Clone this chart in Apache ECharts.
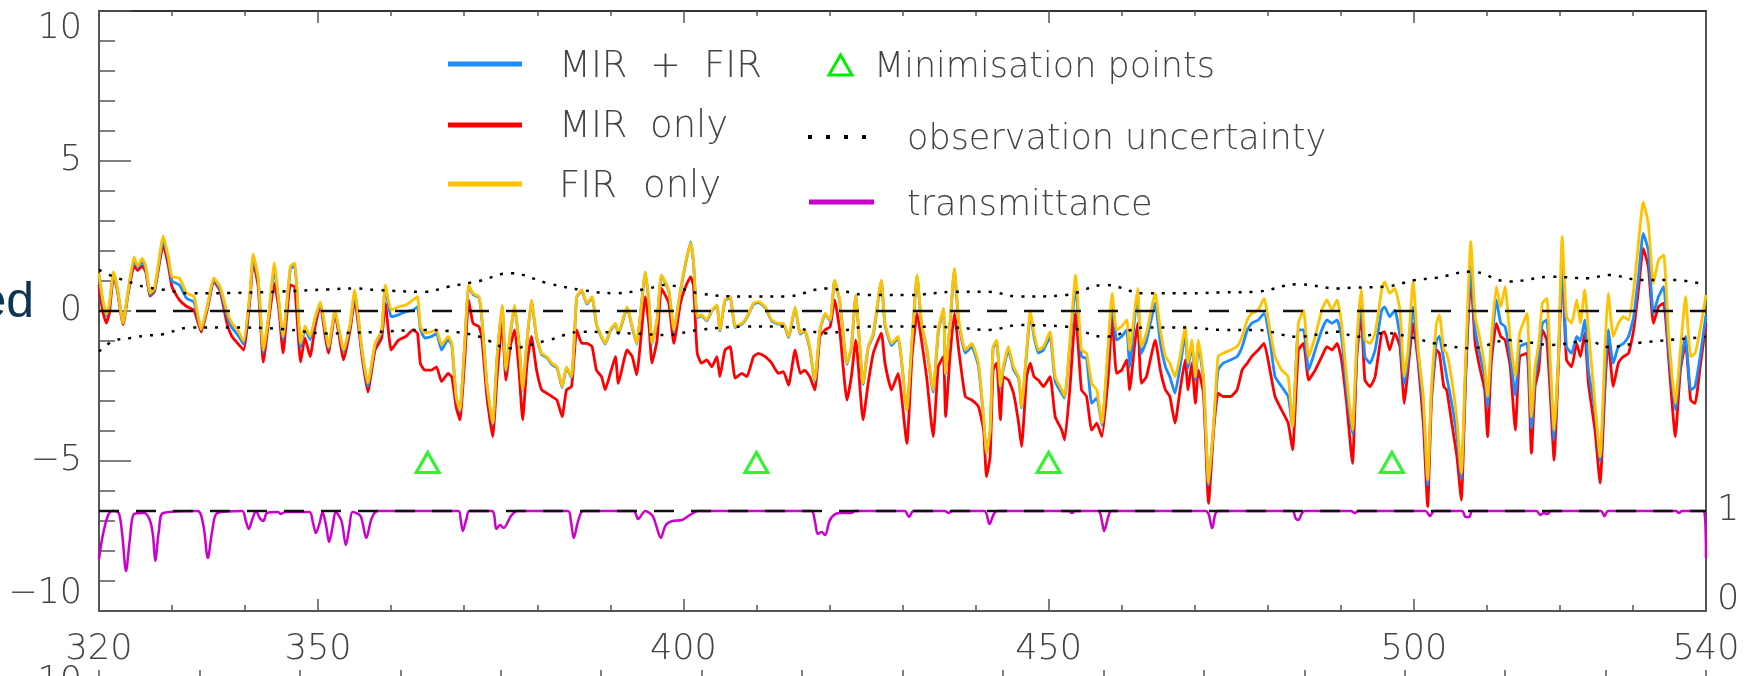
<!DOCTYPE html>
<html>
<head>
<meta charset="utf-8">
<script src="https://cdn.jsdelivr.net/npm/echarts@6/dist/echarts.min.js"></script>
<style>
html,body{margin:0;padding:0;background:#fff;}
#chart{width:1748px;height:676px;}
</style>
</head>
<body>
<div id="chart"></div>
<script>
// Wavenumber (x) samples shared by the three retrieval curves
const wavenumber = [
320.0, 320.5, 321.0, 321.4, 322.0, 322.5, 323.3, 324.0, 324.8, 325.3,
325.9, 326.4, 327.0, 327.6, 328.8, 329.5, 330.0, 331.0, 332.0, 333.0,
334.0, 335.0, 335.7, 336.6, 337.5, 338.2, 339.0, 339.8, 340.7, 341.1,
341.8, 342.5, 343.2, 344.0, 344.6, 345.2, 346.2, 346.8, 347.6, 348.2,
348.9, 349.6, 350.3, 351.0, 351.4, 352.3, 353.5, 354.4, 355.0, 356.0,
356.8, 357.8, 358.7, 359.2, 360.0, 361.0, 362.0, 363.0, 363.6, 364.0,
364.6, 365.5, 366.2, 366.9, 367.8, 368.3, 368.9, 369.4, 370.1, 370.6,
371.2, 372.0, 372.4, 373.1, 373.9, 374.5, 375.2, 375.7, 376.3, 376.9,
377.5, 378.0, 378.6, 379.2, 379.9, 380.6, 381.3, 382.0, 382.7, 383.4,
384.0, 384.7, 385.4, 386.1, 386.8, 387.5, 388.1, 388.8, 389.3, 390.0,
390.7, 391.1, 392.3, 393.0, 393.6, 394.8, 395.3, 395.7, 396.4, 397.0,
398.0, 398.7, 399.6, 400.3, 401.0, 401.4, 401.9, 402.5, 403.2, 403.9,
404.6, 405.0, 405.7, 406.4, 407.1, 408.0, 408.7, 409.6, 410.3, 411.2,
412.1, 413.0, 413.7, 414.4, 415.3, 416.0, 416.6, 417.3, 418.0, 418.7,
419.4, 420.1, 420.7, 421.4, 422.4, 423.0, 423.6, 424.6, 425.3, 426.0,
427.1, 427.6, 428.5, 429.4, 430.6, 431.3, 432.0, 432.6, 433.3, 434.2,
434.9, 435.6, 435.9, 436.5, 437.1, 437.7, 438.6, 439.5, 440.4, 441.1,
441.5, 442.0, 442.4, 442.9, 443.4, 443.8, 444.5, 445.2, 445.9, 446.3,
447.0, 447.5, 448.0, 448.6, 449.3, 450.2, 450.9, 451.8, 452.2, 452.9,
453.7, 454.5, 455.2, 455.9, 456.6, 457.3, 458.2, 458.7, 459.3, 460.0,
460.7, 461.1, 461.8, 462.2, 462.7, 463.4, 464.6, 465.3, 466.0, 466.6,
467.3, 468.0, 468.7, 469.1, 469.6, 470.1, 470.5, 471.2, 471.9, 472.6,
473.2, 473.9, 474.9, 475.8, 476.5, 477.2, 477.8, 478.7, 479.5, 480.3,
481.0, 481.9, 482.8, 483.4, 484.2, 484.9, 485.6, 486.5, 487.4, 488.1,
488.8, 489.5, 490.1, 490.8, 491.6, 492.2, 492.8, 493.3, 494.0, 494.7,
495.6, 496.0, 496.7, 497.4, 498.1, 498.7, 499.2, 499.9, 500.6, 501.3,
501.9, 502.4, 503.1, 503.5, 504.1, 504.5, 505.2, 505.9, 506.5, 507.1,
507.8, 508.4, 509.0, 509.7, 510.1, 510.6, 511.3, 511.9, 512.5, 513.2,
513.9, 514.5, 515.5, 516.1, 516.6, 517.1, 517.6, 518.2, 518.7, 519.2,
519.8, 520.3, 520.9, 521.6, 522.3, 522.8, 523.4, 523.9, 524.8, 525.5,
526.2, 526.6, 527.3, 528.0, 528.7, 529.4, 530.1, 530.8, 531.4, 532.1,
532.8, 533.5, 534.2, 534.9, 535.8, 536.5, 537.2, 537.9, 538.5, 539.2, 540.0
];

// FIR only (yellow)
const firOnly = [
1.26, 0.4, -0.1, 0.2, 1.3, 0.8, -0.4, 0.7, 1.8, 1.5,
1.75, 1.5, 0.6, 0.75, 2.5, 1.8, 1.15, 1.1, 0.6, 0.48,
-0.6, 0.37, 1.1, 0.8, 0.0, -0.4, -0.63, -1.0, 0.7, 1.9,
1.1, -1.3, -0.2, 1.6, 0.37, -0.85, 1.48, 1.6, -1.08, -0.5,
-0.85, -0.2, 0.3, -0.63, -1.2, 0.0, -1.3, -0.4, 0.7, -1.3,
-2.4, -1.08, -0.63, 0.87, 0.03, 0.14, 0.2, 0.37, 0.48, -0.5,
-0.74, -0.69, -0.63, -1.13, -0.85, -1.08, -2.85, -3.3, -0.97, 0.87,
0.59, 0.48, -0.19, -2.41, -3.74, -1.52, 0.2, -1.97, -0.74, 0.2,
-1.08, -2.63, -0.97, 0.37, -0.85, -1.41, -1.52, -1.74, -1.86, -2.52,
-1.86, -2.19, 0.48, 0.7, 0.26, 0.48, -0.41, -0.85, -1.08, -0.63,
-0.41, -0.74, 0.14, -0.52, -1.08, 1.31, 0.26, -1.08, -0.3, 1.2,
0.7, -0.63, 0.7, 1.6, 2.26, 1.6, -0.19, -0.13, -0.3, 0.03,
0.2, -0.63, 0.37, 0.48, -0.52, -0.41, -0.19, 0.26, 0.31, 0.14,
-0.3, -0.41, -0.41, -0.85, 0.14, -0.74, -0.63, -1.19, -2.3, -0.63,
-0.08, -0.3, 1.03, 0.37, -1.74, -1.19, 0.53, -2.41, -1.19, -0.74,
1.03, -0.41, -1.08, -0.85, -3.3, -0.97, 1.2, -0.41, -1.19, -2.63,
-0.63, 0.09, -2.08, -0.41, 1.42, -0.3, -1.3, -1.08, -1.74, -3.52,
-4.74, -3.97, -1.19, -0.97, -2.52, -1.86, -1.19, -1.86, -2.19, -3.19,
-1.3, 0.03, -0.74, -1.3, -1.19, -0.69, -2.19, -2.63, -2.85, -1.08,
1.2, -1.3, -1.41, -2.41, -2.63, -3.74, -0.97, 0.59, -0.63, -0.52,
-0.3, -1.3, 0.03, 0.75, -1.19, -0.74, 0.59, -0.63, -1.52, -1.74,
-2.19, -1.52, -0.52, -1.74, -0.97, -2.19, -0.97, -2.19, -5.74, -3.74,
-1.52, -1.41, -1.3, -1.19, -0.85, -0.3, -0.08, 0.03, 0.42, -0.63,
-1.52, -1.97, -2.19, -3.86, -0.41, 0.03, -1.52, -0.85, 0.03, 0.37,
0.03, 0.37, -0.41, -2.19, -3.97, -0.97, 0.7, -0.97, -1.08, -0.74,
0.7, 0.98, 0.59, 0.75, 0.03, -2.19, -1.3, 0.98, -1.3, -2.85,
-5.63, -2.63, -0.41, -0.13, -1.3, -1.41, -2.3, -3.63, -5.41, -1.52,
2.31, -0.19, -0.85, -1.86, -2.85, -0.97, 0.81, 0.14, 0.81, -0.97,
-2.19, -0.74, -0.08, -3.52, -1.86, -1.08, 0.26, 0.42, -1.74, -3.97,
-1.52, 2.48, -0.19, -0.41, 0.37, -0.41, 0.7, -0.63, -3.08, -4.86,
-1.08, 0.59, -0.85, -0.41, -0.19, -0.3, 0.7, 2.37, 3.64, 2.92,
0.92, 1.7, 1.87, -0.85, -3.08, -1.3, 0.48, -1.52, -1.41, -0.63, 0.53
];

// MIR + FIR (blue)
const mirFir = [
1.2, 0.3, -0.15, 0.15, 1.25, 0.75, -0.4, 0.65, 1.7, 1.45,
1.65, 1.4, 0.55, 0.7, 2.35, 1.7, 1.0, 0.87, 0.42, 0.3,
-0.63, 0.33, 1.05, 0.72, -0.15, -0.55, -0.8, -1.1, 0.6, 1.8,
1.0, -1.4, -0.25, 1.4, 0.3, -0.95, 1.4, 1.5, -1.2, -0.6,
-0.95, -0.25, 0.25, -0.7, -1.25, -0.05, -1.35, -0.45, 0.6, -1.35,
-2.5, -1.15, -0.7, 0.8, -0.19, -0.13, -0.02, 0.03, 0.14, -0.6,
-0.9, -0.85, -0.75, -1.3, -0.95, -1.15, -2.9, -3.35, -1.0, 0.8,
0.55, 0.45, -0.22, -2.45, -3.78, -1.55, 0.17, -2.0, -0.78, 0.15,
-1.1, -2.65, -1.0, 0.33, -0.88, -1.45, -1.55, -1.78, -1.9, -2.55,
-1.9, -2.22, 0.45, 0.67, 0.23, 0.45, -0.44, -0.88, -1.1, -0.66,
-0.44, -0.77, 0.11, -0.55, -1.1, 1.28, 0.23, -1.1, -0.33, 1.17,
0.67, -0.66, 0.67, 1.57, 2.3, 1.57, -0.22, -0.16, -0.33, 0.0,
0.17, -0.66, 0.34, 0.45, -0.55, -0.44, -0.22, 0.23, 0.28, 0.11,
-0.33, -0.44, -0.44, -0.88, 0.11, -0.77, -0.66, -1.25, -2.35, -0.66,
-0.11, -0.33, 1.0, 0.34, -1.78, -1.22, 0.5, -2.45, -1.22, -0.8,
1.0, -0.45, -1.15, -0.9, -3.3, -1.0, 1.15, -0.45, -1.25, -2.7,
-0.7, 0.05, -2.12, -0.45, 1.38, -0.4, -1.4, -1.2, -1.85, -3.6,
-4.74, -4.0, -1.25, -1.05, -2.55, -1.95, -1.3, -1.95, -2.25, -3.22,
-1.4, -0.1, -0.85, -1.4, -1.3, -0.85, -2.35, -2.75, -2.9, -1.2,
0.81, -1.52, -1.58, -3.08, -2.9, -3.8, -1.15, 0.37, -0.97, -0.85,
-0.63, -1.86, -0.19, 0.5, -1.41, -1.0, 0.26, -1.08, -1.86, -2.19,
-2.74, -1.86, -0.8, -1.9, -1.1, -2.3, -1.1, -2.3, -5.8, -3.8,
-1.97, -1.74, -1.63, -1.52, -1.19, -0.63, -0.41, -0.3, -0.08, -0.97,
-2.19, -2.52, -2.85, -3.86, -0.63, -0.63, -1.97, -1.3, -0.63, -0.3,
-0.41, -0.3, -0.85, -2.63, -4.1, -1.3, 0.37, -1.52, -1.74, -1.3,
0.03, 0.14, -0.19, 0.03, -0.85, -2.41, -1.63, 0.14, -1.52, -3.19,
-5.8, -2.8, -0.97, -0.85, -1.63, -2.19, -3.08, -4.19, -5.6, -1.9,
1.48, -0.63, -1.41, -2.2, -3.2, -1.3, 0.37, -0.41, -0.52, -1.52,
-2.8, -1.19, -1.08, -3.9, -2.2, -1.5, -0.41, -0.3, -2.2, -4.3,
-1.6, 1.7, -1.19, -1.41, -0.85, -1.0, -0.3, -1.97, -3.3, -5.0,
-1.97, -0.63, -1.74, -1.19, -1.08, -0.85, -0.19, 1.26, 2.59, 2.03,
-0.08, 0.48, 0.81, -1.3, -3.3, -1.8, -0.85, -2.63, -2.52, -1.52, -0.13
];

// MIR only (red)
const mirOnly = [
0.87, 0.0, -0.4, -0.1, 1.2, 0.7, -0.45, 0.6, 1.5, 1.35,
1.5, 1.3, 0.5, 0.65, 2.2, 1.5, 0.8, 0.37, 0.15, 0.03,
-0.7, 0.25, 1.0, 0.65, -0.4, -0.85, -1.08, -1.3, 0.5, 1.65,
0.8, -1.7, -0.4, 0.92, 0.1, -1.4, 0.87, 0.8, -1.7, -0.9,
-1.52, -0.5, 0.2, -0.9, -1.41, -0.1, -1.63, -0.6, 0.37, -1.5,
-2.7, -1.3, -0.9, 0.25, -1.3, -0.97, -0.85, -0.63, -0.74, -1.75,
-1.97, -1.97, -1.86, -2.35, -2.08, -2.2, -3.2, -3.63, -1.5, 0.37,
-0.41, -0.52, -0.85, -2.85, -4.19, -2.19, -0.36, -2.3, -1.19, -0.63,
-2.0, -3.63, -1.75, -0.85, -1.97, -2.63, -2.74, -2.85, -2.97, -3.52,
-2.63, -2.52, -0.63, -1.08, -1.08, -1.19, -1.97, -2.19, -2.63, -2.08,
-1.52, -2.41, -1.3, -1.52, -2.13, 0.48, -0.5, -1.74, -0.97, 0.75,
0.26, -1.08, 0.26, 0.81, 1.14, 0.81, -1.41, -1.74, -1.63, -1.86,
-1.52, -2.19, -1.3, -1.19, -2.24, -2.08, -2.19, -1.52, -1.41, -1.52,
-1.74, -2.08, -2.02, -2.47, -1.3, -2.08, -1.97, -2.19, -2.63, -0.85,
-0.63, -0.52, 0.37, -0.63, -2.97, -2.19, -0.97, -3.63, -2.41, -1.41,
-0.74, -1.74, -2.63, -2.08, -4.41, -1.52, -0.08, -0.97, -2.19, -4.19,
-1.86, -1.52, -3.52, -1.52, -0.08, -1.3, -2.85, -2.97, -3.19, -3.97,
-5.52, -4.85, -1.97, -1.74, -3.63, -2.19, -2.3, -2.74, -3.74, -4.52,
-2.19, -1.74, -2.19, -2.3, -2.52, -2.19, -3.52, -3.97, -4.3, -2.63,
-0.08, -2.63, -2.85, -3.97, -3.74, -4.19, -2.08, -0.19, -2.08, -1.97,
-1.63, -2.63, -1.08, -0.41, -2.41, -2.19, -0.97, -1.97, -2.63, -2.85,
-3.74, -2.63, -1.63, -2.63, -1.74, -3.08, -1.97, -2.74, -6.41, -3.97,
-2.74, -2.85, -2.85, -2.63, -1.97, -1.74, -1.52, -1.3, -1.08, -1.97,
-2.85, -3.3, -3.74, -4.63, -1.3, -1.08, -2.3, -1.97, -1.52, -1.19,
-1.3, -1.08, -1.63, -3.08, -5.08, -1.52, -0.08, -2.3, -2.52, -2.19,
-0.74, -0.69, -1.3, -0.74, -1.19, -3.08, -1.97, -0.41, -1.74, -3.74,
-6.52, -3.08, -1.3, -1.41, -2.52, -2.63, -3.74, -4.85, -6.3, -2.19,
1.14, -1.08, -1.86, -2.63, -4.19, -1.74, -0.41, -0.85, -0.97, -1.86,
-3.97, -1.52, -1.41, -4.74, -2.52, -1.97, -0.63, -0.97, -2.85, -4.97,
-1.74, 1.48, -1.63, -1.86, -1.08, -1.52, -0.74, -2.41, -3.97, -5.74,
-2.41, -0.97, -2.52, -1.74, -1.52, -1.41, -0.63, 0.81, 2.09, 1.48,
-0.41, 0.14, 0.26, -1.63, -4.19, -1.97, -1.08, -2.97, -3.08, -1.86, -0.41
];

// Observation uncertainty envelope (dotted)
const uncWavenumber = [320, 322, 325, 326.3, 328.6, 332.6, 338, 345, 351.4, 355, 358, 364.6, 367.8, 372, 376.3, 381.5, 386.1, 390.7, 395.2, 397.5, 402.1, 408.5, 413.9, 419.6, 425.3, 430.8, 437.2, 441.8, 445.9, 452.3, 457.7, 463.2, 469.1, 473.7, 478.3, 484.2, 489.7, 492, 496.1, 500.2, 502.9, 507.9, 513, 518.9, 523.9, 526.6, 531.2, 535.8, 540];
const uncUpper = [1.37, 1.15, 0.9, 0.8, 0.72, 0.59, 0.6, 0.65, 0.72, 0.75, 0.7, 0.64, 0.81, 1.0, 1.26, 0.92, 0.7, 0.59, 0.75, 0.87, 0.59, 0.48, 0.48, 0.75, 0.53, 0.53, 0.64, 0.64, 0.48, 0.53, 0.87, 0.59, 0.59, 0.62, 0.64, 0.89, 0.75, 0.78, 0.81, 1.03, 1.1, 1.31, 0.98, 1.14, 1.09, 1.2, 1.03, 1.03, 0.87];
const uncLower = [-1.35, -1.0, -0.88, -0.82, -0.78, -0.55, -0.55, -0.6, -0.75, -0.72, -0.7, -0.63, -0.67, -0.85, -1.24, -0.97, -0.69, -0.72, -0.78, -0.8, -0.63, -0.52, -0.52, -0.74, -0.52, -0.52, -0.55, -0.63, -0.47, -0.52, -0.86, -0.55, -0.55, -0.63, -0.63, -0.86, -0.69, -0.86, -0.74, -0.91, -1.08, -1.24, -0.97, -1.13, -1.0, -1.2, -1.05, -0.95, -0.86];

// Transmittance (right axis, 0..1)
const transWavenumber = [320, 320.5, 321.2, 321.8, 322.7, 323.2, 323.7, 324.2, 324.8, 326.2, 327.0, 327.4, 327.7, 328.2, 328.8, 333.5, 334.3, 334.9, 335.5, 336.2, 339.6, 340.1, 340.5, 341.0, 341.5, 342.0, 342.5, 343.0, 344.5, 344.9, 345.5, 348.8, 349.3, 349.7, 350.2, 350.6, 351.1, 351.5, 352.0, 352.4, 353.2, 353.8, 354.3, 354.7, 355.8, 356.6, 357.3, 358.1, 369.2, 369.5, 369.8, 370.3, 370.7, 373.8, 374.4, 374.9, 375.4, 376.4, 377.3, 384.2, 384.6, 385.0, 385.6, 386.3, 393.2, 393.8, 394.8, 395.8, 396.3, 396.9, 397.6, 398.5, 399.8, 401.1, 402, 417.5, 418.0, 418.4, 418.9, 419.4, 420.0, 420.6, 421.4, 423.0, 423.5, 430.3, 430.9, 431.5, 435.8, 436.3, 436.8, 441.2, 441.9, 442.5, 443.0, 452.8, 453.2, 453.6, 456.8, 457.3, 457.6, 458.2, 458.6, 471.5, 472.4, 473.2, 483.4, 483.8, 484.2, 484.7, 485.1, 491.4, 491.9, 492.4, 501.6, 502.2, 502.8, 506.6, 507.1, 507.6, 508.0, 516.8, 517.3, 517.8, 518.3, 518.8, 525.6, 526.1, 526.6, 535.9, 536.3, 536.7, 539.7, 540];
const transmittance = [0.52, 0.75, 0.95, 1.0, 0.98, 0.75, 0.40, 0.70, 0.97, 0.98, 0.90, 0.75, 0.50, 0.80, 0.98, 1.0, 0.85, 0.53, 0.80, 0.98, 1.0, 0.9, 0.82, 0.92, 1.0, 0.93, 0.90, 0.98, 0.99, 0.97, 0.99, 0.99, 0.88, 0.78, 0.88, 0.99, 0.85, 0.69, 0.85, 0.99, 0.9, 0.66, 0.85, 0.99, 0.95, 0.73, 0.92, 1.0, 1.0, 0.92, 0.80, 0.92, 1.0, 1.0, 0.82, 0.86, 0.83, 0.95, 1.0, 1.0, 0.9, 0.73, 0.9, 1.0, 1.0, 0.92, 1.0, 0.95, 0.85, 0.73, 0.86, 0.9, 0.91, 0.97, 1.0, 1.0, 0.9, 0.77, 0.79, 0.76, 0.9, 0.96, 0.98, 0.98, 1.0, 1.0, 0.94, 1.0, 1.0, 0.98, 1.0, 1.0, 0.87, 0.97, 1.0, 1.0, 0.98, 1.0, 1.0, 0.9, 0.80, 0.95, 1.0, 1.0, 0.83, 1.0, 1.0, 0.93, 0.91, 0.98, 1.0, 1.0, 0.98, 1.0, 1.0, 0.95, 1.0, 1.0, 0.94, 0.94, 1.0, 1.0, 0.96, 0.98, 0.97, 1.0, 1.0, 0.95, 1.0, 1.0, 0.98, 1.0, 1.0, 0.53];

// Minimisation points
const minimisationX = [365, 410, 450, 497];
const minimisationY = [-5.05, -5.05, -5.05, -5.05];

// Reference lines
const refX = [320, 540];
const zeroLevel = [0, 0];
const unitTransmittance = [1, 1];

// Tick labels
const xLabelValues = [320, 350, 400, 450, 500, 540];
const xMajorTicks = [350, 400, 450, 500];
const transLabelValues = [0, 1];

const zip = (xs, ys) => xs.map((x, i) => [x, ys[i]]);

const FONT = "'DejaVu Sans', sans-serif";
const AX = '#555';
const LBL = '#444';
const LEG_FONT_L = "200 37px " + FONT;
const LEG_FONT_R = "200 35px " + FONT;

const chart = echarts.init(document.getElementById('chart'), null, {renderer: 'canvas'});

const noSplit = {show: false};

function legText(text, x, y, font) {
  return {type: 'text', x: x, y: y, style: {text: text, font: font, fill: LBL, verticalAlign: 'middle'}};
}

const option = {
  animation: false,
  backgroundColor: '#ffffff',
  grid: [
    {left: 99, right: 42, top: 11, bottom: 65, containLabel: false},
    {left: 99, right: 42, top: 682, height: 100, containLabel: false}
  ],
  xAxis: [
    { gridIndex: 0, type: 'value', min: 320, max: 540, interval: 10, position: 'bottom',
      axisLine: {show: true, onZero: false, lineStyle: {color: AX, width: 2}},
      axisTick: {show: true, inside: true, length: 6, lineStyle: {color: AX, width: 1.5}},
      axisLabel: {show: true, customValues: xLabelValues, fontSize: 35, fontFamily: FONT, fontWeight: 200, color: LBL, margin: 21},
      splitLine: noSplit },
    { gridIndex: 0, type: 'value', min: 320, max: 540, position: 'bottom',
      axisLine: {show: false, onZero: false},
      axisTick: {show: true, inside: true, length: 12, customValues: xMajorTicks, lineStyle: {color: AX, width: 1.5}},
      axisLabel: {show: false}, splitLine: noSplit },
    { gridIndex: 0, type: 'value', min: 320, max: 540, interval: 10, position: 'top',
      axisLine: {show: true, onZero: false, lineStyle: {color: '#333', width: 2}},
      axisTick: {show: true, inside: true, length: 5, lineStyle: {color: AX, width: 1.5}},
      axisLabel: {show: false}, splitLine: noSplit },
    { gridIndex: 0, type: 'value', min: 320, max: 540, position: 'top',
      axisLine: {show: false, onZero: false},
      axisTick: {show: true, inside: true, length: 12, customValues: xMajorTicks, lineStyle: {color: AX, width: 1.5}},
      axisLabel: {show: false}, splitLine: noSplit },
    { gridIndex: 1, type: 'value', min: 0, max: 16, interval: 1, position: 'top',
      axisLine: {show: false, onZero: false},
      axisTick: {show: true, inside: false, length: 12, lineStyle: {color: AX, width: 1.5}},
      axisLabel: {show: false}, splitLine: noSplit }
  ],
  yAxis: [
    { gridIndex: 0, type: 'value', min: -10, max: 10, interval: 5, position: 'left',
      axisLine: {show: true, onZero: false, lineStyle: {color: AX, width: 2}},
      axisTick: {show: true, inside: true, length: 32, lineStyle: {color: AX, width: 1.5}},
      minorTick: {show: true, splitNumber: 5, length: 16, lineStyle: {color: AX, width: 1.5}},
      axisLabel: {show: true, fontSize: 35, fontFamily: FONT, fontWeight: 200, color: LBL, margin: 17,
        verticalAlignMinLabel: 'bottom', verticalAlignMaxLabel: 'top',
        formatter: v => (v < 0 ? '\u2212' + Math.abs(v) : String(v))},
      splitLine: noSplit, minorSplitLine: noSplit },
    { gridIndex: 0, type: 'value', min: 0, max: 6, interval: 1, position: 'right',
      axisLine: {show: true, onZero: false, lineStyle: {color: AX, width: 2}},
      axisTick: {show: false},
      axisLabel: {show: true, customValues: transLabelValues, fontSize: 35, fontFamily: FONT, fontWeight: 200, color: LBL, margin: 11,
        lineHeight: 22, verticalAlignMinLabel: 'bottom'},
      splitLine: noSplit },
    { gridIndex: 1, type: 'value', min: -10, max: 10, interval: 20, position: 'left',
      axisLine: {show: false, onZero: false},
      axisTick: {show: false},
      axisLabel: {show: true, customValues: [10], fontSize: 35, fontFamily: FONT, fontWeight: 200, color: LBL, margin: 17},
      splitLine: noSplit }
  ],
  graphic: [
    // cropped neighbouring title fragment
    {type: 'text', x: 34, y: 303, z: 100,
     style: {text: 'ed', font: "50px 'Liberation Sans', Arial, sans-serif", fill: '#0b3550', align: 'right', verticalAlign: 'middle'}},
    // legend left column
    {type: 'line', shape: {x1: 448, y1: 64, x2: 522, y2: 64}, style: {stroke: '#1a8cff', lineWidth: 5}},
    legText('MIR', 559, 67, LEG_FONT_L),
    legText('+', 650, 67, LEG_FONT_L),
    legText('FIR', 704, 67, LEG_FONT_L),
    {type: 'line', shape: {x1: 448, y1: 125, x2: 522, y2: 125}, style: {stroke: '#ff0000', lineWidth: 5}},
    legText('MIR', 559, 127, LEG_FONT_L),
    legText('only', 650, 127, LEG_FONT_L),
    {type: 'line', shape: {x1: 448, y1: 184, x2: 522, y2: 184}, style: {stroke: '#ffc200', lineWidth: 5}},
    legText('FIR', 559, 187, LEG_FONT_L),
    legText('only', 643, 187, LEG_FONT_L),
    // legend right column
    {type: 'polygon', shape: {points: [[829, 75], [852, 75], [840.5, 55]]}, style: {fill: 'none', stroke: '#00ee00', lineWidth: 3}},
    legText('Minimisation points', 874, 68, LEG_FONT_R),
    {type: 'line', shape: {x1: 808, y1: 137, x2: 868, y2: 137}, style: {stroke: '#000', lineWidth: 4, lineDash: [4, 14]}},
    legText('observation uncertainty', 907, 140, LEG_FONT_R),
    {type: 'line', shape: {x1: 809, y1: 202, x2: 874, y2: 202}, style: {stroke: '#cc00cc', lineWidth: 5}},
    legText('transmittance', 907, 206, LEG_FONT_R)
  ],
  series: [
    { name: 'transmittance', type: 'line', xAxisIndex: 0, yAxisIndex: 1, data: zip(transWavenumber, transmittance),
      showSymbol: false, symbol: 'none', smooth: 0.3, lineStyle: {color: '#cc00cc', width: 2.5}, z: 2 },
    { name: 'unit', type: 'line', xAxisIndex: 0, yAxisIndex: 1, data: zip(refX, unitTransmittance),
      symbol: 'none', lineStyle: {color: '#111', width: 2.5, type: [20, 17]}, z: 3 },
    { name: 'MIR only', type: 'line', xAxisIndex: 0, yAxisIndex: 0, data: zip(wavenumber, mirOnly),
      symbol: 'none', smooth: 0.15, lineStyle: {color: '#ff0000', width: 2.8}, z: 4 },
    { name: 'MIR + FIR', type: 'line', xAxisIndex: 0, yAxisIndex: 0, data: zip(wavenumber, mirFir),
      symbol: 'none', smooth: 0.15, lineStyle: {color: '#1a8cff', width: 2.8}, z: 5 },
    { name: 'FIR only', type: 'line', xAxisIndex: 0, yAxisIndex: 0, data: zip(wavenumber, firOnly),
      symbol: 'none', smooth: 0.15, lineStyle: {color: '#ffc200', width: 2.8}, z: 6 },
    { name: 'zero', type: 'line', xAxisIndex: 0, yAxisIndex: 0, data: zip(refX, zeroLevel),
      symbol: 'none', lineStyle: {color: '#111', width: 2.5, type: [20, 17]}, z: 7 },
    { name: 'uncertainty upper', type: 'line', xAxisIndex: 0, yAxisIndex: 0, data: zip(uncWavenumber, uncUpper),
      symbol: 'none', smooth: 0.4, lineStyle: {color: '#000', width: 2.5, type: [3, 8]}, z: 8 },
    { name: 'uncertainty lower', type: 'line', xAxisIndex: 0, yAxisIndex: 0, data: zip(uncWavenumber, uncLower),
      symbol: 'none', smooth: 0.4, lineStyle: {color: '#000', width: 2.5, type: [3, 8]}, z: 8 },
    { name: 'Minimisation points', type: 'scatter', xAxisIndex: 0, yAxisIndex: 0, data: zip(minimisationX, minimisationY),
      symbol: 'triangle', symbolSize: [23, 20],
      itemStyle: {color: 'rgba(0,0,0,0)', borderColor: '#00ee00', borderWidth: 3}, z: 9 }
  ]
};

chart.setOption(option);
</script>
</body>
</html>
